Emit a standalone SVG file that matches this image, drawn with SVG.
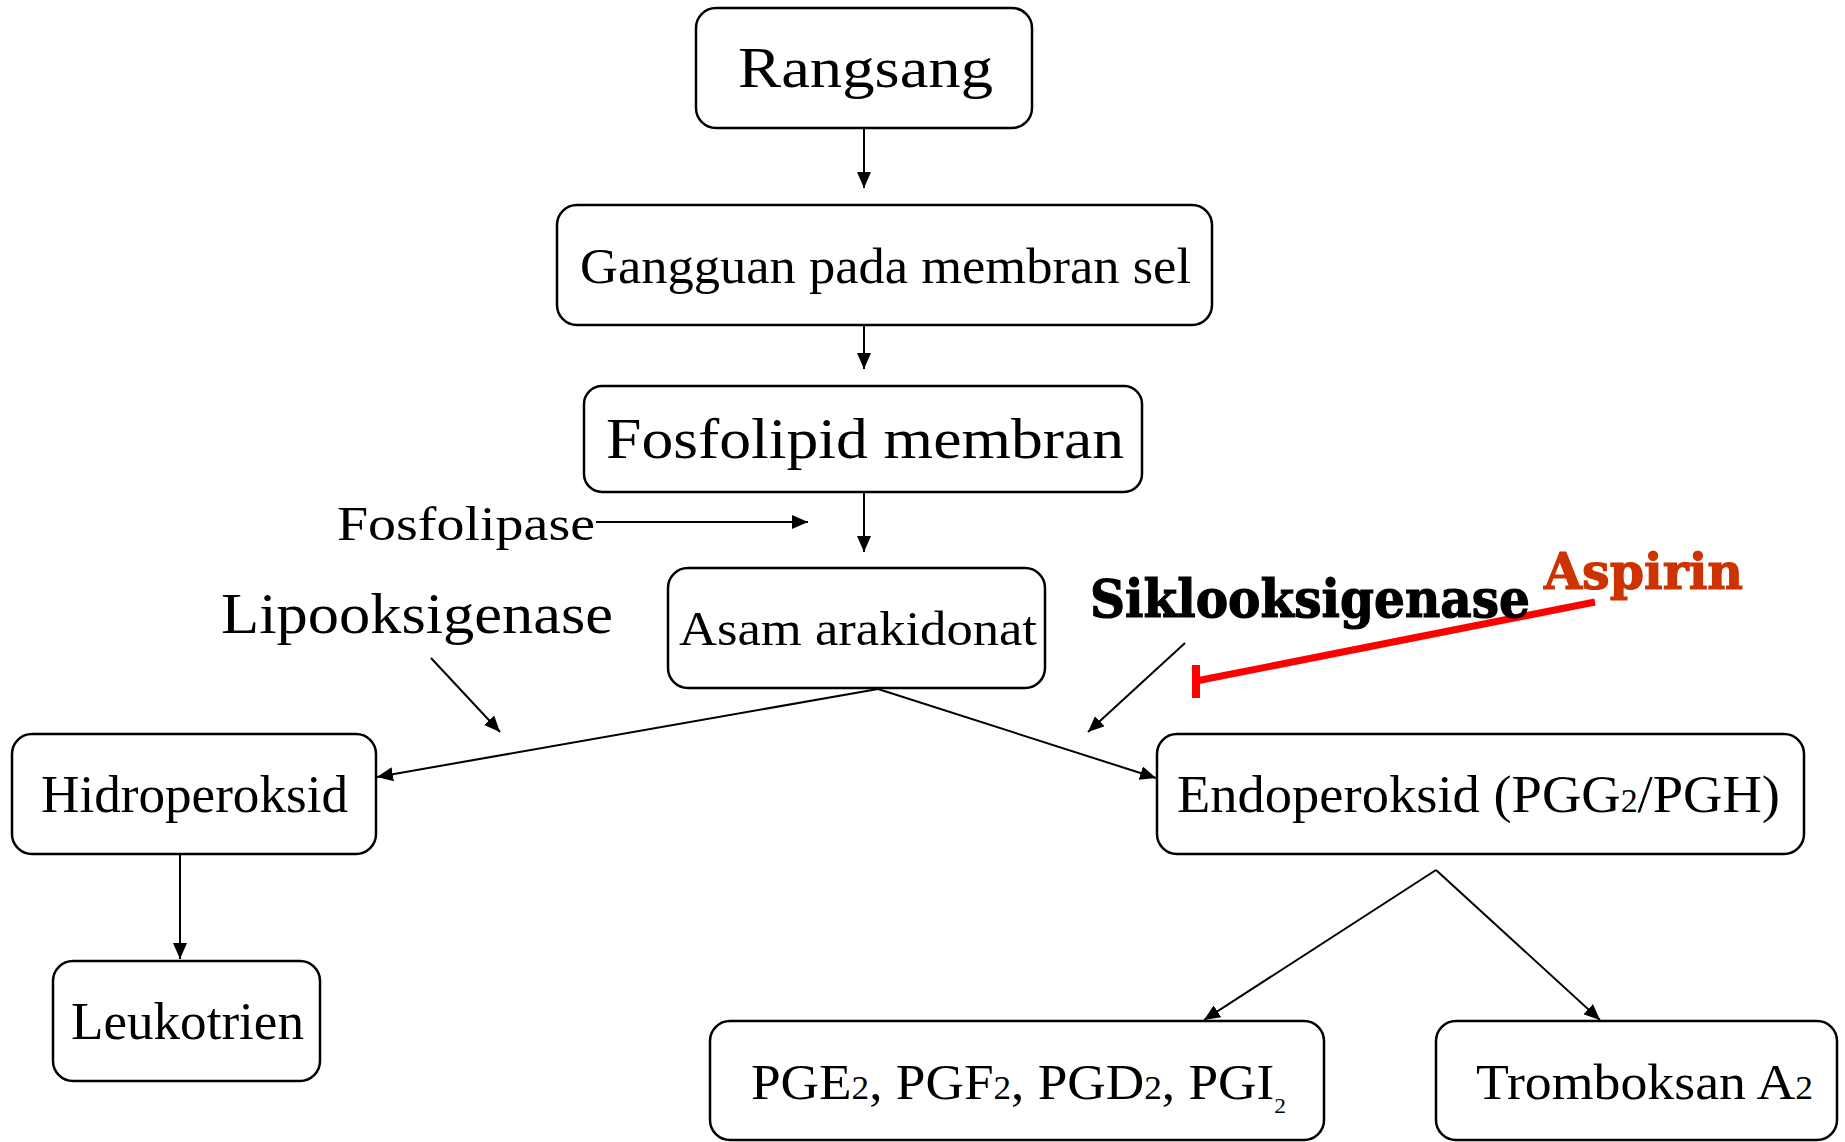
<svg xmlns="http://www.w3.org/2000/svg" width="1845" height="1142" viewBox="0 0 1845 1142">
<defs>
<marker id="arr" viewBox="0 0 16 14" refX="16" refY="7" markerWidth="16" markerHeight="14" markerUnits="userSpaceOnUse" orient="auto">
<path d="M0,0 L16,7 L0,14 z" fill="#000"/>
</marker>
</defs>
<style>
.box{fill:#fff;stroke:#000;stroke-width:2.5}
.t{font-family:"Liberation Serif","Times New Roman",serif;fill:#000}
.c{fill:none;stroke:#000;stroke-width:2}
.a{marker-end:url(#arr)}
.b{font-family:"DejaVu Serif","Liberation Serif",serif;font-weight:bold;stroke-width:1.2}
.s{font-size:33px}
</style>
<rect width="1845" height="1142" fill="#fff"/>
<g id="connectors">
<line class="c a" x1="864" y1="128" x2="864" y2="188"/>
<line class="c a" x1="864" y1="326" x2="864" y2="369"/>
<line class="c a" x1="864" y1="492" x2="864" y2="552"/>
<line class="c a" x1="596" y1="522" x2="808" y2="522"/>
<line class="c a" x1="431" y1="658" x2="500" y2="732"/>
<line class="c a" x1="1185" y1="643" x2="1088" y2="732"/>
<line class="c a" x1="878" y1="689" x2="377" y2="777"/>
<line class="c a" x1="878" y1="689" x2="1156" y2="778"/>
<line class="c a" x1="180" y1="855" x2="180" y2="959"/>
<line class="c a" x1="1436" y1="870" x2="1204" y2="1020"/>
<line class="c a" x1="1436" y1="870" x2="1600" y2="1020"/>
<g id="aspirin-inhibit" stroke="#ff0000" fill="none">
<line x1="1595" y1="602" x2="1196" y2="681" stroke-width="7"/>
<line x1="1196" y1="665" x2="1196" y2="698" stroke-width="8"/>
</g>
</g>
<g id="n-rangsang">
<rect class="box" x="696" y="8" width="336" height="120" rx="20"/>
<text class="t" x="738" y="87" font-size="56" textLength="255" lengthAdjust="spacingAndGlyphs">Rangsang</text>
</g>
<g id="n-gangguan">
<rect class="box" x="557" y="205" width="655" height="120" rx="20"/>
<text class="t" x="580" y="283" font-size="51" textLength="611" lengthAdjust="spacingAndGlyphs">Gangguan pada membran sel</text>
</g>
<g id="n-fosfolipid">
<rect class="box" x="584" y="386" width="558" height="106" rx="18"/>
<text class="t" x="606" y="458" font-size="56" textLength="518" lengthAdjust="spacingAndGlyphs">Fosfolipid membran</text>
</g>
<g id="l-fosfolipase">
<text class="t" x="337" y="540" font-size="48" textLength="258" lengthAdjust="spacingAndGlyphs">Fosfolipase</text>
</g>
<g id="n-asam">
<rect class="box" x="668" y="568" width="377" height="120" rx="20"/>
<text class="t" x="679" y="645" font-size="48" textLength="358" lengthAdjust="spacingAndGlyphs">Asam arakidonat</text>
</g>
<g id="l-lipooksigenase">
<text class="t" x="221" y="633" font-size="57" textLength="392" lengthAdjust="spacingAndGlyphs">Lipooksigenase</text>
</g>
<g id="l-siklooksigenase">
<text class="b" x="1090" y="617" font-size="52" fill="#000" stroke="#000" textLength="440" lengthAdjust="spacingAndGlyphs">Siklooksigenase</text>
</g>
<g id="l-aspirin">
<text class="b" x="1544" y="589" font-size="50" fill="#cc3300" stroke="#cc3300" textLength="199" lengthAdjust="spacingAndGlyphs">Aspirin</text>
</g>
<g id="n-hidroperoksid">
<rect class="box" x="12" y="734" width="364" height="120" rx="20"/>
<text class="t" x="41" y="812" font-size="53" textLength="307" lengthAdjust="spacingAndGlyphs">Hidroperoksid</text>
</g>
<g id="n-endoperoksid">
<rect class="box" x="1157" y="734" width="647" height="120" rx="20"/>
<text class="t" x="1177" y="812" font-size="53" textLength="603" lengthAdjust="spacingAndGlyphs">Endoperoksid (PGG<tspan class="s">2</tspan>/PGH)</text>
</g>
<g id="n-leukotrien">
<rect class="box" x="53" y="961" width="267" height="120" rx="20"/>
<text class="t" x="71" y="1039" font-size="53" textLength="233" lengthAdjust="spacingAndGlyphs">Leukotrien</text>
</g>
<g id="n-pge">
<rect class="box" x="710" y="1021" width="614" height="119" rx="20"/>
<text class="t" x="751" y="1099" font-size="50" textLength="535" lengthAdjust="spacingAndGlyphs">PGE<tspan class="s">2</tspan>, PGF<tspan class="s">2</tspan>, PGD<tspan class="s">2</tspan>, PGI<tspan font-size="22" dy="14">2</tspan></text>
</g>
<g id="n-tromboksan">
<rect class="box" x="1436" y="1021" width="401" height="119" rx="20"/>
<text class="t" x="1476" y="1099" font-size="50" textLength="337" lengthAdjust="spacingAndGlyphs">Tromboksan A<tspan class="s">2</tspan></text>
</g>
</svg>
